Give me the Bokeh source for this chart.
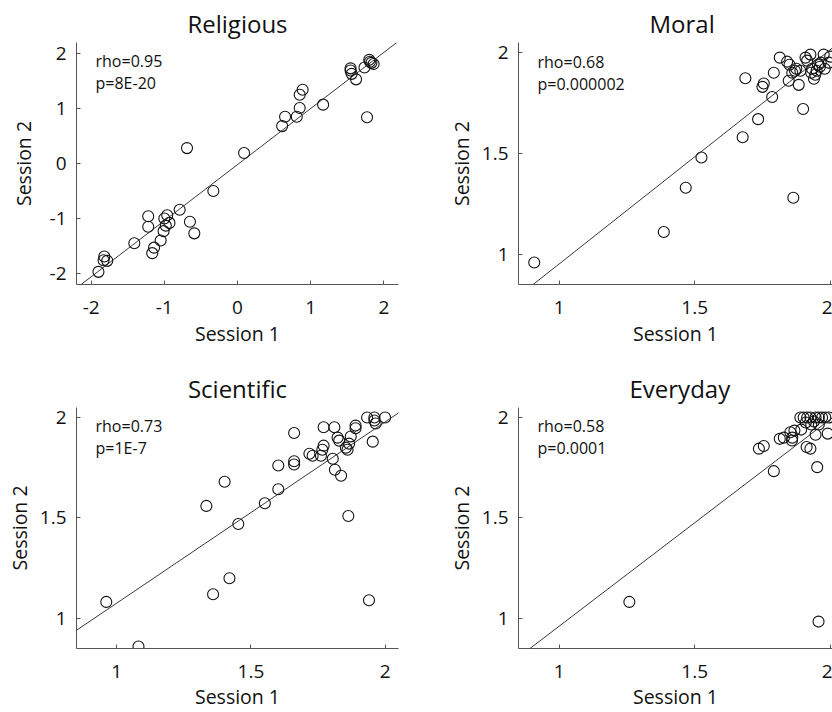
from bokeh.plotting import figure
from bokeh.layouts import column, row
from bokeh.models import Slope, Label, NumeralTickFormatter, FixedTicker, Range1d
from bokeh.embed import file_html
from bokeh.resources import INLINE

FONT = "Open Sans"

# ---------------- data ----------------
religious_s1 = [-1.90, -1.82, -1.83, -1.78, -1.41, -1.22, -1.22, -1.165, -1.14, -1.05,
                -1.00, -0.96, -0.93, -0.98, -1.01, -0.79, -0.69, -0.65, -0.59, -0.33,
                0.09, 0.61, 0.65, 0.81, 0.85, 0.85, 0.89, 1.17, 1.545, 1.545,
                1.56, 1.62, 1.735, 1.80, 1.81, 1.83, 1.86, 1.77]
religious_s2 = [-1.97, -1.69, -1.76, -1.77, -1.45, -0.96, -1.15, -1.63, -1.53, -1.40,
                -1.00, -0.94, -1.08, -1.13, -1.23, -0.84, 0.28, -1.06, -1.27, -0.50,
                0.19, 0.68, 0.85, 0.85, 1.01, 1.25, 1.34, 1.07, 1.73, 1.69,
                1.63, 1.53, 1.745, 1.885, 1.85, 1.83, 1.81, 0.84]

moral_s1 = [0.908, 1.386, 1.467, 1.525, 1.677, 1.734, 1.687, 1.755, 1.75, 1.786,
            1.792, 1.814, 1.841, 1.85, 1.847, 1.86, 1.864, 1.87, 1.884, 1.89,
            1.90, 1.909, 1.915, 1.927, 1.933, 1.93, 1.94, 1.95, 1.955, 1.962,
            1.965, 1.976, 1.98, 1.995, 2.0, 1.945, 1.875]
moral_s2 = [0.959, 1.11, 1.33, 1.48, 1.58, 1.67, 1.873, 1.847, 1.83, 1.78,
            1.90, 1.975, 1.955, 1.94, 1.86, 1.90, 1.28, 1.91, 1.84, 1.91,
            1.72, 1.975, 1.96, 1.99, 1.92, 1.90, 1.87, 1.91, 1.94, 1.93,
            1.95, 1.99, 1.92, 1.95, 1.98, 1.89, 1.92]

scientific_s1 = [0.961, 1.081, 1.334, 1.359, 1.402, 1.42, 1.453, 1.552, 1.602, 1.602,
                 1.661, 1.661, 1.661, 1.718, 1.73, 1.761, 1.766, 1.771, 1.771, 1.805,
                 1.811, 1.813, 1.823, 1.836, 1.829, 1.854, 1.863, 1.86, 1.866, 1.872,
                 1.89, 1.89, 1.933, 1.94, 1.954, 1.96, 1.96, 1.965, 2.0]
scientific_s2 = [1.082, 0.86, 1.56, 1.12, 1.68, 1.20, 1.47, 1.573, 1.643, 1.761,
                 1.923, 1.782, 1.766, 1.82, 1.81, 1.81, 1.84, 1.86, 1.952, 1.795,
                 1.952, 1.74, 1.90, 1.71, 1.885, 1.85, 1.51, 1.84, 1.87, 1.906,
                 1.96, 1.947, 2.0, 1.09, 1.88, 2.0, 1.985, 1.97, 2.0]

everyday_s1 = [1.259, 1.957, 1.952, 1.792, 1.737, 1.755, 1.814, 1.829, 1.853, 1.859,
               1.86, 1.868, 1.893, 1.913, 1.927, 1.946, 1.89, 1.902, 1.915, 1.927,
               1.946, 1.958, 1.97, 1.982, 1.995, 1.91, 1.93, 1.958, 1.991, 1.94]
everyday_s2 = [1.082, 0.984, 1.753, 1.733, 1.845, 1.858, 1.894, 1.90, 1.927, 1.886,
               1.90, 1.935, 1.94, 1.853, 1.845, 1.914, 2.0, 2.0, 2.0, 2.0,
               2.0, 2.0, 2.0, 2.0, 2.0, 1.975, 1.965, 1.965, 1.92, 1.98]

titles = ["Religious", "Moral", "Scientific", "Everyday"]
rho_texts = ["rho=0.95", "rho=0.68", "rho=0.73", "rho=0.58"]
p_texts = ["p=8E-20", "p=0.000002", "p=1E-7", "p=0.0001"]
fit_slopes = [1.02, 1.062, 0.902, 1.03]
fit_intercepts = [-0.02, -0.11, 0.174, -0.069]
ticks_religious = [-2, -1, 0, 1, 2]
ticks_rating = [1, 1.5, 2]


def make_panel(title, xs, ys, slope, intercept, rho_t, p_t, xr, yr, ticks,
               width, height, bl, br, bt, bb, title_align="center", title_offset=0,
               ylab_standoff=4, xlab_standoff=3, xtick_standoff=16):
    p = figure(width=width, height=height, output_backend="svg", toolbar_location=None,
               x_range=Range1d(*xr), y_range=Range1d(*yr),
               min_border_left=bl, min_border_right=br, min_border_top=bt,
               min_border_bottom=bb, background_fill_color=None,
               border_fill_color=None)
    p.outline_line_color = None
    p.grid.visible = False
    p.title.text = title
    p.title.text_font = FONT
    p.title.text_font_size = "24px"
    p.title.text_font_style = "normal"
    p.title.align = title_align
    p.title.standoff = 6
    p.title.offset = title_offset
    p.title.text_color = "#111111"

    for ax in (p.xaxis[0], p.yaxis[0]):
        ax.ticker = FixedTicker(ticks=ticks)
        ax.formatter = NumeralTickFormatter(format="0.[0]")
        ax.major_tick_in = 4
        ax.major_tick_out = 0
        ax.minor_tick_line_color = None
        ax.axis_line_color = "#555555"
        ax.major_tick_line_color = "#555555"
        ax.major_label_text_font = FONT
        ax.major_label_text_font_size = "19px"
        ax.major_label_text_color = "#111111"
        ax.axis_label_text_font = FONT
        ax.axis_label_text_font_size = "19.5px"
        ax.axis_label_text_font_style = "normal"
        ax.axis_label_text_color = "#111111"
    p.xaxis.axis_label = "Session 1"
    p.yaxis.axis_label = "Session 2"
    p.xaxis.major_label_standoff = xtick_standoff
    p.xaxis.axis_label_standoff = xlab_standoff
    p.yaxis.major_label_standoff = 10
    p.yaxis.axis_label_standoff = ylab_standoff

    p.add_layout(Slope(gradient=slope, y_intercept=intercept,
                       line_color="#222222", line_width=0.9))
    p.scatter(xs, ys, marker="circle", size=11, fill_color=None,
              line_color="#111111", line_width=1.1)

    fw = width - bl - br
    fh = height - bt - bb
    dx = (xr[1] - xr[0]) / fw
    dy = (yr[1] - yr[0]) / fh
    lx = xr[0] + 19 * dx
    for i, t in enumerate([rho_t, p_t]):
        p.add_layout(Label(x=lx, y=yr[1] - (8 + 22 * i) * dy, text=t,
                           text_font=FONT, text_font_size="16px",
                           text_color="#111111", text_baseline="top",
                           text_align="left"))
    return p


# top row: 0..366 px, bottom row: 366..712 px
p1 = make_panel(titles[0], religious_s1, religious_s2, fit_slopes[0], fit_intercepts[0],
                rho_texts[0], p_texts[0], (-2.2, 2.2), (-2.2, 2.2), ticks_religious,
                416, 366, 76, 18, 42, 81, ylab_standoff=10)
p2 = make_panel(titles[1], moral_s1, moral_s2, fit_slopes[1], fit_intercepts[1],
                rho_texts[1], p_texts[1], (0.85, 2.0085), (0.85, 2.05), ticks_rating,
                416, 366, 102, 0, 42, 82, title_align="left", title_offset=131)
p3 = make_panel(titles[2], scientific_s1, scientific_s2, fit_slopes[2], fit_intercepts[2],
                rho_texts[2], p_texts[2], (0.85, 2.05), (0.85, 2.05), ticks_rating,
                416, 346, 76, 18, 41, 62, xlab_standoff=2, xtick_standoff=16)
p4 = make_panel(titles[3], everyday_s1, everyday_s2, fit_slopes[3], fit_intercepts[3],
                rho_texts[3], p_texts[3], (0.85, 2.0085), (0.85, 2.05), ticks_rating,
                416, 346, 102, 0, 41, 63, title_align="left", title_offset=111,
                xlab_standoff=2, xtick_standoff=16)

layout = column(row(p1, p2, spacing=0), row(p3, p4, spacing=0), spacing=0)

open("out.html", "w").write(file_html(layout, INLINE))
